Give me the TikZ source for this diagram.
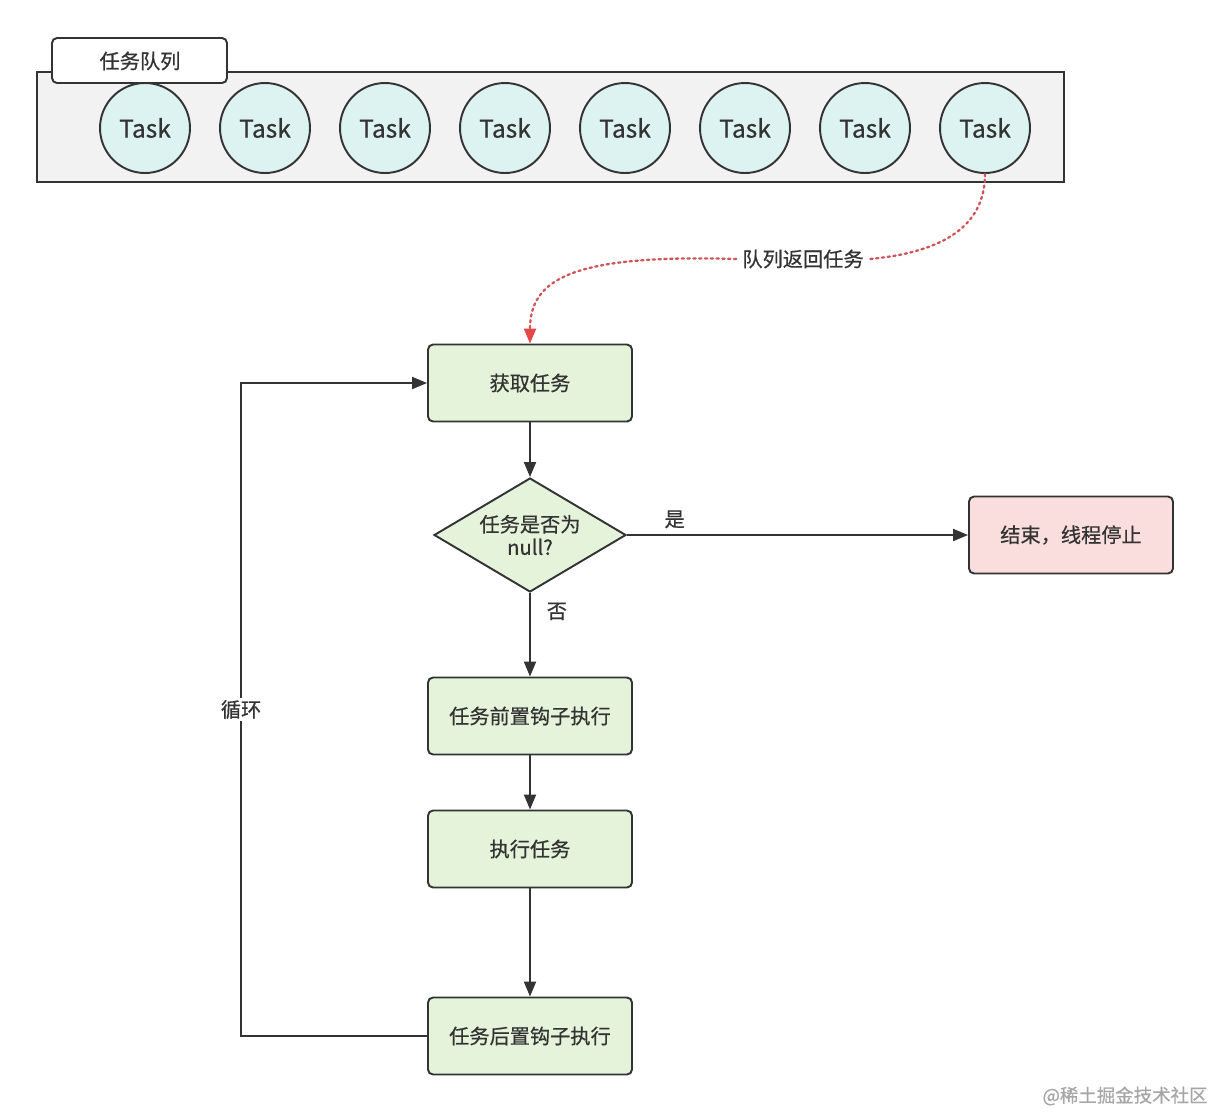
\documentclass[tikz,border=0pt]{standalone}
\usepackage{fontspec}
\setmainfont{Noto Sans CJK SC}[UprightFeatures={FakeBold=0.6}]
\usepackage{tikz}
\usetikzlibrary{arrows.meta}
\usetikzlibrary{shapes.geometric}
\usepackage{xcolor}
\definecolor{ink}{HTML}{333333}
\definecolor{queuegray}{HTML}{F2F2F2}
\definecolor{taskcyan}{HTML}{DDF3F1}
\definecolor{stepgreen}{HTML}{E4F3DA}
\definecolor{stoppink}{HTML}{FADEDE}
\definecolor{returnred}{HTML}{D0545A}
\definecolor{tipred}{HTML}{E54848}
\tikzset{
	flowbox/.style={draw=ink, line width=1.1pt, rounded corners=0.1cm, fill=stepgreen, minimum width=4.08cm, minimum height=1.54cm, text=ink, font=\fontsize{11.5}{14}\selectfont},
	taskball/.style={circle, draw=ink, line width=1.1pt, fill=taskcyan, minimum size=1.8cm, text=ink, font=\fontsize{14}{16}\selectfont},
	flowarrow/.style={draw=ink, line width=1.1pt, -{Triangle[length=0.3cm,width=0.24cm]}},
	edgetext/.style={text=ink, font=\fontsize{11.5}{14}\selectfont}
}

\begin{document}
\begin{tikzpicture}[x=0.02cm, y=-0.02cm]
	\useasboundingbox (0,0) rectangle (1210,1113);
	\draw[draw=ink, line width=1.1pt, fill=queuegray] (37,72) rectangle (1064,182);
	\draw[draw=ink, line width=1.1pt, fill=white, rounded corners=0.1cm] (52,38) rectangle (227,83);
	\node[edgetext] (queue) at (140,61) {任务队列};
	\foreach \i in {1,...,8}
		\node[taskball] (t\i) at ({25+120*\i},128) {Task};

	\node[flowbox] (get) at (530,383) {获取任务};
	\node[diamond, aspect=1.68, draw=ink, line width=1.1pt, fill=stepgreen, minimum width=3.84cm, minimum height=2.28cm, inner sep=0pt, text=ink, align=center, font=\fontsize{11.5}{13}\selectfont] (isnull) at (530,535) {任务是否为\\null?};
	\node[flowbox, fill=stoppink] (stop) at (1071,535) {结束，线程停止};
	\node[flowbox] (pre) at (530,716) {任务前置钩子执行};
	\node[flowbox] (run) at (530,849) {执行任务};
	\node[flowbox] (post) at (530,1036) {任务后置钩子执行};

	\node[edgetext] (ret) at (803,259) {队列返回任务};
	\draw[returnred, line width=1.3pt, dotted, line cap=round] (t8.south) .. controls (985,225) and (945,252) .. (ret.east);
	\draw[returnred, line width=1.3pt, dotted, line cap=round, -{Triangle[length=0.3cm,width=0.24cm,color=tipred,fill=tipred]}] (ret.west) .. controls (570,254) and (530,280) .. (get.north);

	\draw[flowarrow] (get) -- (isnull);
	\draw[flowarrow] (isnull.east) -- (stop.west) node[edgetext, pos=0.14, above] {是};
	\draw[flowarrow] (isnull.south) -- (pre.north) node[edgetext, pos=0.22, right=0.2cm] {否};
	\draw[flowarrow] (pre) -- (run);
	\draw[flowarrow] (run) -- (post);
	\draw[flowarrow] (post.west) -- ++(-186,0) |- (get.west) node[edgetext, pos=0.25, fill=white, inner sep=1pt] {循环};

	\node[text=black!35, font=\fontsize{10.5}{12}\selectfont] (mark) at (1125,1096) {@稀土掘金技术社区};
\end{tikzpicture}
\end{document}
